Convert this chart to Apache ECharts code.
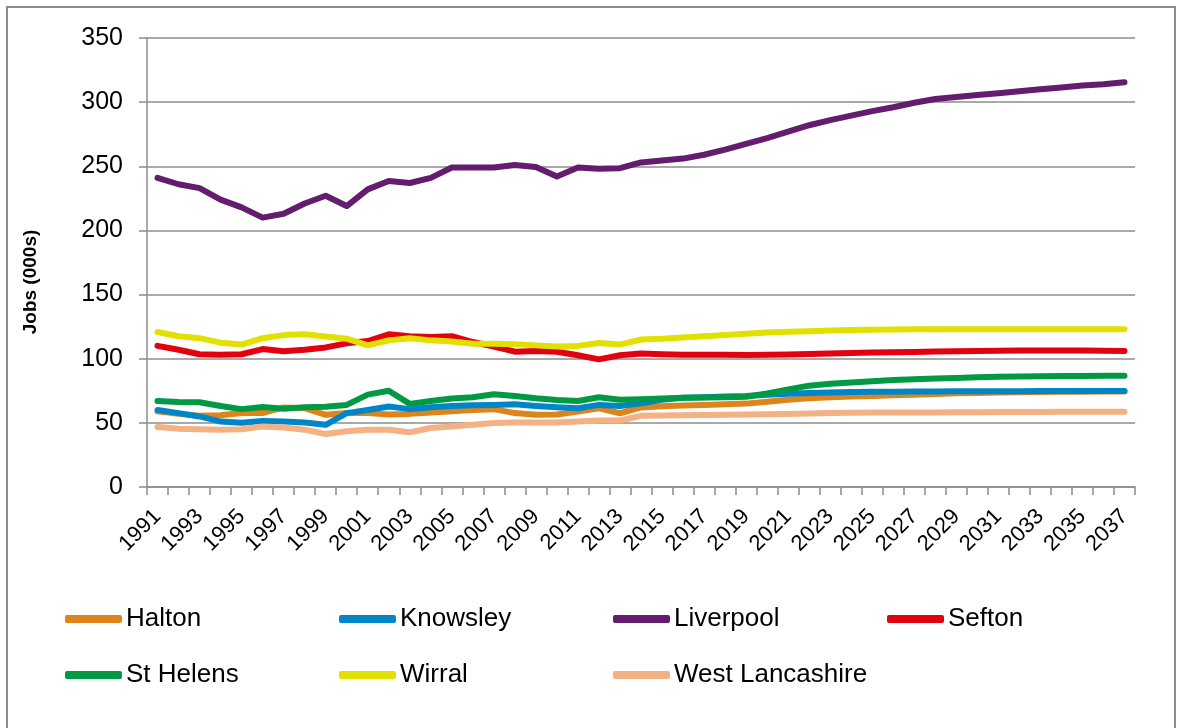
<!DOCTYPE html>
<html><head><meta charset="utf-8">
<script src="https://cdn.jsdelivr.net/npm/echarts@6/dist/echarts.min.js"></script>
<style>html,body{margin:0;padding:0;background:#fff}#c{width:1178px;height:728px}</style>
</head><body><div id="c"></div>
<script>
const years = [];
for (let y = 1991; y <= 2037; y++) years.push(String(y));

const seriesNames = ['Halton','Knowsley','Liverpool','Sefton','St Helens','Wirral','West Lancashire'];
const seriesColors = ['#DD841D','#0086C6','#641D6E','#E3000F','#009A44','#E2E000','#F4B183'];

const halton = [59,57,55.5,56,57.6,57.6,62,61.4,56.3,57.6,57.6,56.5,57,58,59,60,60.7,57.6,56.3,56.5,58.8,61.4,57.5,62,63,63.5,64,64.5,65,66.5,68,69.2,70,70.5,71,71.5,72,72.5,73,73.3,73.6,73.8,74,74.2,74.3,74.4,74.5];
const knowsley = [60,57.6,55,51,50,51.5,51,50.3,48.5,57.6,60,62.7,60.7,62.2,63.2,63.8,64,64.5,63.2,62.2,61.4,64,63.2,65.3,68,69.5,70,70.5,71,72,72.7,73.3,73.7,74,74.2,74.3,74.4,74.5,74.6,74.6,74.7,74.7,74.8,74.8,74.8,74.8,74.8];
const liverpool = [241,236,233,224,218,210,213,221,227,219,232,238.5,237,241,249,249,249,251,249.5,242,249,248,248.5,253,254.5,256,259,263,267.5,272,277,282,286,289.5,293,296,299.5,302.5,304,305.5,307,308.5,310,311.5,313,314,315.5];
const sefton = [110,107,103.5,103,103.5,107.5,105.8,107,108.8,112,113.8,119,117.5,116.9,117.5,113,109.5,105.5,106,105.4,102.7,99.5,102.7,104,103.5,103,103,103,102.8,103,103.3,103.6,104,104.5,104.8,105,105.3,105.6,105.8,106,106.3,106.5,106.5,106.5,106.5,106.3,106];
const stHelens = [67,66.3,66,63.2,60.7,62.3,61,62.2,62.5,64,72,75,64.8,67,69,70,72.3,71,69.2,67.9,67,70,68,68.4,69,69.5,69.7,70,70.4,73,76,79,80.5,81.5,82.5,83.5,84,84.6,85,85.6,86,86.2,86.4,86.5,86.6,86.7,86.8];
const wirral = [120.8,117.5,116,112.5,111,116,118.4,119,117.4,115.6,110.4,114.3,116,114.3,113.5,111.7,111.7,111.2,110.4,109.5,110,112.3,111,115,115.5,116.5,117.5,118.5,119.5,120.5,121,121.5,122,122.3,122.6,122.8,123,123,123,123,123,123,123,123,123,123,123];
const westLancs = [46.7,45.4,45,44.7,45,47.2,46.4,44.7,41.3,43.4,44.7,44.7,42.6,46,47.2,48.5,49.8,50.3,50.3,50.3,51,51.8,51.8,55.5,55.8,56,56.2,56.4,56.6,56.8,57,57.3,57.6,57.8,58,58,58,58.1,58.2,58.3,58.4,58.5,58.5,58.6,58.6,58.6,58.6];

const yTicks = [0,50,100,150,200,250,300,350];
const yTitle = 'Jobs (000s)';

const allData = [halton, knowsley, liverpool, sefton, stHelens, wirral, westLancs];
const FONT = 'Liberation Sans, Arial, sans-serif';

const legendPos = [
  {left: 60, top: 601}, {left: 334, top: 601}, {left: 608, top: 601}, {left: 882, top: 601},
  {left: 60, top: 657}, {left: 334, top: 657}, {left: 608, top: 657}
];

const chart = echarts.init(document.getElementById('c'), null, {renderer: 'canvas'});
chart.setOption({
  animation: false,
  backgroundColor: '#fff',
  graphic: [{
    type: 'rect', shape: {x: 7, y: 7, width: 1168, height: 740},
    style: {fill: 'none', stroke: '#8c8c8c', lineWidth: 2}, z: -1
  }, {
    type: 'text', x: 31, y: 282, rotation: Math.PI / 2,
    style: {text: yTitle, fontFamily: FONT, fontSize: 19, fontWeight: 'bold', fill: '#000',
            align: 'center', verticalAlign: 'middle'}
  }],
  grid: {left: 147, right: 43, top: 38, bottom: 241, containLabel: false},
  legend: seriesNames.map((n, i) => ({
    data: [n], left: legendPos[i].left, top: legendPos[i].top,
    icon: 'roundRect', itemWidth: 57, itemHeight: 8, itemGap: 0,
    textStyle: {fontFamily: FONT, fontSize: 26, color: '#000', padding: [0,0,0,-1]},
    selectedMode: false
  })),
  xAxis: {
    type: 'category', data: years, boundaryGap: true,
    axisLine: {lineStyle: {color: '#8c8c8c', width: 1.5}},
    axisTick: {show: true, length: 8, alignWithLabel: false, interval: 0, lineStyle: {color: '#8c8c8c', width: 1.5}},
    axisLabel: {interval: 1, rotate: 45, fontFamily: FONT, fontSize: 22, color: '#000', margin: 26}
  },
  yAxis: {
    type: 'value', min: yTicks[0], max: yTicks[yTicks.length-1], interval: 50,
    axisLine: {show: true, lineStyle: {color: '#8c8c8c', width: 1.5}},
    axisTick: {show: true, length: 8, lineStyle: {color: '#8c8c8c', width: 1.5}},
    splitLine: {lineStyle: {color: '#8c8c8c', width: 1.5}},
    axisLabel: {fontFamily: FONT, fontSize: 25, color: '#000', margin: 24}
  },
  series: seriesNames.map((n, i) => ({
    name: n, type: 'line', data: allData[i], color: seriesColors[i],
    showSymbol: false, symbol: 'none',
    lineStyle: {width: 6, color: seriesColors[i], cap: 'round', join: 'round'}
  }))
});
</script></body></html>
